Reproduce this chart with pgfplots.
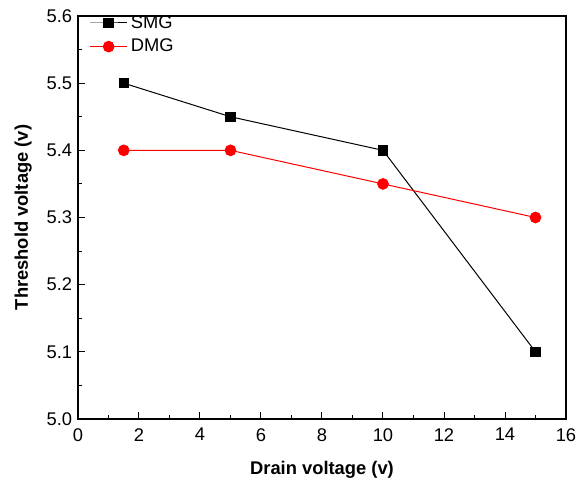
\documentclass[border=0pt]{standalone}
\usepackage{fontspec}
\setmainfont{Liberation Sans}
\usepackage{pgfplots}
\pgfplotsset{compat=1.18}
\usetikzlibrary{calc}

\begin{document}
\begin{tikzpicture}
\begin{axis}[
  scale only axis,
  width=292.8pt, height=241.8pt,
  xmin=0, xmax=16, ymin=5.0, ymax=5.6,
  xtick={0,2,...,16},
  ytick={5.0,5.1,5.2,5.3,5.4,5.5,5.6},
  minor x tick num=1, minor y tick num=1,
  tick align=inside,
  xtick pos=bottom, ytick pos=left,
  major tick length=4pt, minor tick length=2.5pt,
  tick style={black, line width=0.6pt},
  axis line style={line width=0.7pt},
  yticklabel style={/pgf/number format/.cd, fixed, fixed zerofill, precision=1},
  /pgf/number format/assume math mode=true,
  tick label style={font=\fontsize{11}{13}\selectfont},
  xticklabel style={yshift=-2pt},
  xlabel={\textbf{Drain voltage (v)}},
  ylabel={\textbf{Threshold voltage (v)}},
  label style={font=\fontsize{11}{13}\selectfont},
  xlabel style={yshift=-5pt},
  ylabel style={yshift=2pt},
  legend style={at={(0.0,1.0)}, anchor=north west, draw=none, fill=none,
                xshift=4.8pt, yshift=3.6pt,
                font=\fontsize{11}{13}\selectfont, row sep=1pt,
                inner xsep=2pt, inner ysep=1pt},
  legend cell align=left,
  legend image code/.code={%
    \draw[mark repeat=2, mark phase=2]
      plot coordinates {(0cm,0cm) (0.39cm,0cm) (0.78cm,0cm)};},
]
\addplot[black, line width=0.6pt, mark=square*, mark size=2.8pt,
         mark options={solid, fill=black}]
  coordinates {(1.5,5.5)(5,5.45)(10,5.4)(15,5.1)};
\addlegendentry{SMG}
\addplot[red, line width=0.6pt, mark=*, mark size=3.2pt,
         mark options={solid, fill=red}]
  coordinates {(1.5,5.4)(5,5.4)(10,5.35)(15,5.3)};
\addlegendentry{DMG}
\end{axis}
\path ($(current axis.south west)+(-46.8pt,-37.2pt)$) rectangle ($(current axis.north east)+(11.4pt,9.6pt)$);
\end{tikzpicture}
\end{document}
